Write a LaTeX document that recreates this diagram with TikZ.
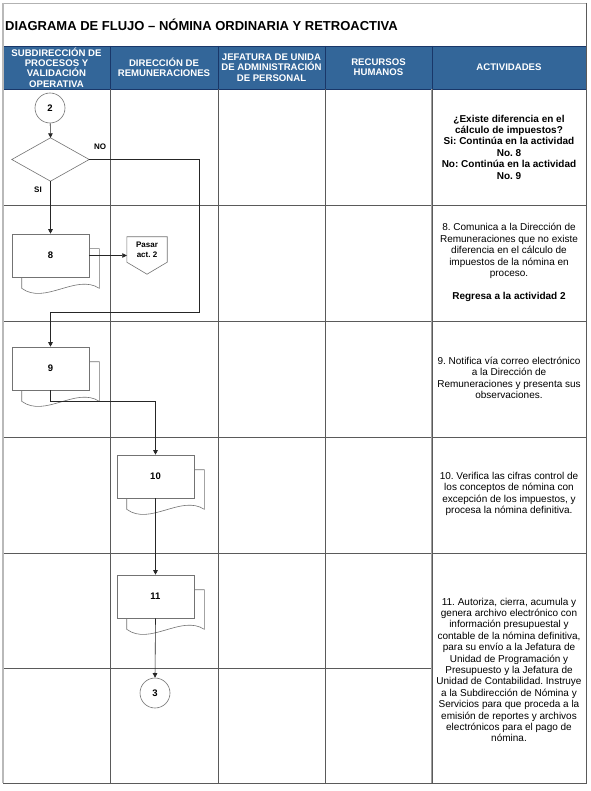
\documentclass[tikz,border=0pt]{standalone}
\usepackage{fontspec}
\setmainfont{Liberation Sans}
\usetikzlibrary{arrows.meta,calc}
\frenchspacing
\definecolor{hdrblue}{RGB}{51,102,153}
\definecolor{hdrline}{RGB}{25,55,105}
\definecolor{gridc}{RGB}{90,90,90}
\definecolor{shapec}{RGB}{115,115,115}
\newcommand{\mydocback}[1]{%
  \draw[docback] ($(#1.south west)+(10,0)$) -- ($(#1.south west)+(10,11)$)
    .. controls ($(#1.south west)+(33,28)$) and ($(#1.south east)+(-13,-4)$) .. ($(#1.south east)+(10,11)$)
    -- ($(#1.north east)+(10,15)$) -- ($(#1.north east)+(0,15)$);}
\begin{document}
\frenchspacing
\begin{tikzpicture}[x=1pt,y=-1pt,
  grid/.style={draw=gridc,line width=0.7pt},
  hdr/.style={text=white,font=\fontsize{9.6}{10.3}\selectfont\bfseries,align=center,inner sep=0pt},
  act/.style={font=\fontsize{10}{11.4}\selectfont,align=center,inner sep=0pt},
  docfront/.style={draw=shapec,fill=white,minimum width=77pt,minimum height=43pt,inner sep=0pt,line width=0.6pt,font=\fontsize{9.5}{10}\selectfont\bfseries},
  docback/.style={draw=shapec,line width=0.6pt},
  conn/.style={draw=black!85,line width=0.6pt},
  arr/.style={conn,-{Triangle[length=4.5pt,width=4.5pt]}},
  circ/.style={circle,draw=shapec,minimum size=30pt,inner sep=0pt,line width=0.6pt,font=\fontsize{9.5}{10}\selectfont\bfseries},
  lbl/.style={font=\fontsize{8}{10}\selectfont\bfseries,inner sep=0pt}
]
\useasboundingbox (0,0) rectangle (590,791);
\fill[white] (0,0) rectangle (590,791);

% ---------- title and header ----------
\node[anchor=west,font=\fontsize{13}{15}\selectfont\bfseries,inner sep=0pt] (title) at (5,25) {DIAGRAMA DE FLUJO – NÓMINA ORDINARIA Y RETROACTIVA};
\fill[hdrblue] (3,46) rectangle (586,89);
\draw[hdrline,line width=0.8pt] (3,46) -- (586,46);
\draw[hdrline,line width=0.8pt] (3,89) -- (586,89);
\foreach \x in {110,218,325,432} \draw[hdrline,line width=0.7pt] (\x,46) -- (\x,89);

\node[hdr] (h1) at (56.5,67.5) {SUBDIRECCIÓN DE\\PROCESOS Y\\VALIDACIÓN\\OPERATIVA};
\node[hdr] (h2) at (164,67.5) {DIRECCIÓN DE\\REMUNERACIONES};
\node[hdr] (h3) at (271.5,67.5) {JEFATURA DE UNIDA\\DE ADMINISTRACIÓN\\DE PERSONAL};
\node[hdr] (h4) at (378.5,67.5) {RECURSOS\\HUMANOS};
\node[hdr] (h5) at (509,67.5) {ACTIVIDADES};

% ---------- grid ----------
\foreach \y in {205,321,437,553} \draw[grid] (3,\y) -- (586,\y);
\draw[grid] (3,668) -- (432,668);
\foreach \x in {110,218,325} \draw[grid] (\x,89) -- (\x,783);
\draw[gray!75,line width=1.6pt] (432,89) -- (432,783);
\draw[grid] (432,89) -- (432,783);
\draw[grid] (586,3) -- (586,783) -- (3,783);
\draw[gray!60,line width=0.8pt] (3,3) -- (586,3);
\draw[gray!55,line width=1.6pt] (3,3) -- (3,783);

% ---------- shapes ----------
\node[circ] (c2) at (50,108) {2};
\node[minimum width=77pt,minimum height=43pt,inner sep=0pt] (dec) at (50.5,159.5) {};
\draw[shapec,line width=0.6pt] (dec.north) -- (dec.east) -- (dec.south) -- (dec.west) -- cycle;
\node[lbl] (no) at (100,147) {NO};
\node[lbl] (si) at (38,190) {SI};

\node[docfront] (d8) at (50.5,255.5) {8};
\mydocback{d8}
\node[docfront] (d9) at (50.5,368.5) {9};
\mydocback{d9}
\node[docfront] (d10) at (155.5,476.5) {10};
\mydocback{d10}
\node[docfront] (d11) at (155.5,596.5) {11};
\mydocback{d11}
\node[circ] (c3) at (155,693) {3};

\node[lbl,align=center,minimum width=40pt,minimum height=25pt] (pasar) at (147,249.5) {Pasar\\act. 2};
\draw[shapec,line width=0.6pt] (pasar.north west) -- (pasar.north east) -- (pasar.south east) -- ([yshift=-12pt]pasar.south) -- (pasar.south west) -- cycle;

% ---------- connectors ----------
\coordinate (noturn) at (199,312);
\draw[arr] (c2) -- (dec.north);
\draw[arr] (dec.south) -- (d8.north);
\draw[arr] (d8.east) -- (d8.east -| pasar.west);
\draw[arr] (dec.east) -| (noturn) -| (d9.north);
\draw[arr] (d9.south) -- ++(0,11) -| (d10.north);
\draw[arr] (d10.south) -- (d11.north);
\draw[arr] (d11.south) -- (c3.north);

% ---------- activities ----------
\node[act,font=\fontsize{10}{11.4}\selectfont\bfseries] (a1) at (509,147) {¿Existe diferencia en el\\cálculo de impuestos?\\Si: Continúa en la actividad\\No. 8\\No: Continúa en la actividad\\No. 9};
\node[act] (a2) at (509,262.5) {8. Comunica a la Dirección de\\Remuneraciones que no existe\\diferencia en el cálculo de\\impuestos de la nómina en\\proceso.\\[11.4pt]\textbf{Regresa a la actividad 2}};
\node[act] (a3) at (509,378) {9. Notifica vía correo electrónico\\a la Dirección de\\Remuneraciones y presenta sus\\observaciones.};
\node[act] (a4) at (509,494) {10. Verifica las cifras control de\\los conceptos de nómina con\\excepción de los impuestos, y\\procesa la nómina definitiva.};
\node[act] (a5) at (509,670) {11. Autoriza, cierra, acumula y\\genera archivo electrónico con\\información presupuestal y\\contable de la nómina definitiva,\\para su envío a la Jefatura de\\Unidad de Programación y\\Presupuesto y la Jefatura de\\Unidad de Contabilidad. Instruye\\a la Subdirección de Nómina y\\Servicios para que proceda a la\\emisión de reportes y archivos\\electrónicos para el pago de\\nómina.};
\end{tikzpicture}
\end{document}
